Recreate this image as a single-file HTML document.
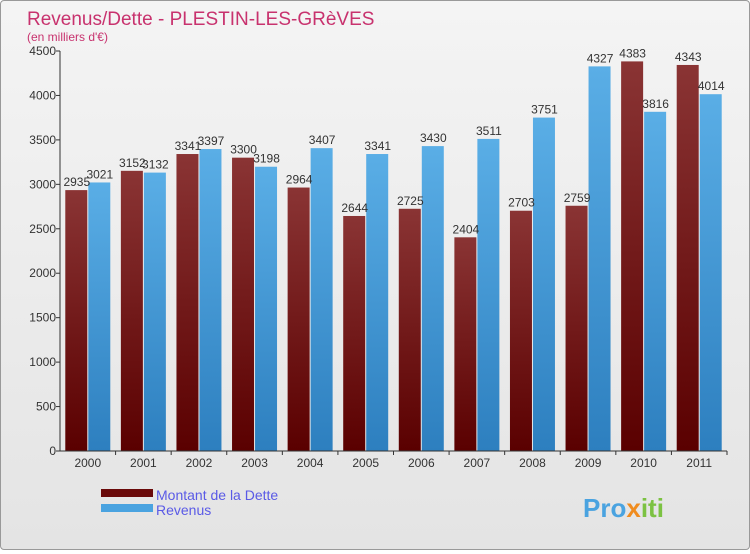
<!DOCTYPE html>
<html><head><meta charset="utf-8"><style>
body{margin:0;background:#fff;font-family:"Liberation Sans",sans-serif}
#wrap{position:relative;width:748px;height:548px;border:1px solid #999;border-radius:4px;background:linear-gradient(#f4f4f4,#e4e4e4)}
</style></head><body>
<div id="wrap">
<svg id="c" width="748" height="548" xmlns="http://www.w3.org/2000/svg">
<defs>
<linearGradient id="gd" x1="0" y1="0" x2="0" y2="1"><stop offset="0" stop-color="#8a3434"/><stop offset="1" stop-color="#5a0000"/></linearGradient>
<linearGradient id="gr" x1="0" y1="0" x2="0" y2="1"><stop offset="0" stop-color="#5aaee6"/><stop offset="1" stop-color="#2d7fbf"/></linearGradient>
</defs>
<text x="26" y="24" font-size="19" fill="#c8326e">Revenus/Dette - PLESTIN-LES-GRèVES</text>
<text x="26" y="40" font-size="12" fill="#c8326e">(en milliers d'€)</text>
<g id="grid"></g><g id="bars"></g><g id="axes"></g>
<rect x="100" y="488" width="52" height="8" fill="#6a0a0a"/>
<text x="155" y="499" font-size="14" fill="#5a5ae6">Montant de la Dette</text>
<rect x="100" y="503" width="52" height="8" fill="#4aa3e0"/>
<text x="155" y="514" font-size="14" fill="#5a5ae6">Revenus</text>
<text x="582" y="516" font-size="26" font-weight="bold" fill="#4aa3e0">Pro<tspan fill="#f08c1e">x</tspan><tspan fill="#7cc242">iti</tspan></text>
</svg></div>
<script>
const years=["2000","2001","2002","2003","2004","2005","2006","2007","2008","2009","2010","2011"];
const dette=[2935,3152,3341,3300,2964,2644,2725,2404,2703,2759,4383,4343];
const revenus=[3021,3132,3397,3198,3407,3341,3430,3511,3751,4327,3816,4014];
const ticks=[0,500,1000,1500,2000,2500,3000,3500,4000,4500];
const NS="http://www.w3.org/2000/svg";
const x0=59,x1=726,yb=450,yt=50,max=4500;
const gw=(x1-x0)/years.length;
const y=v=>yb-(v/max)*(yb-yt);
function mk(t,a,p){const e=document.createElementNS(NS,t);for(const k in a)e.setAttribute(k,a[k]);p.appendChild(e);return e;}
const grid=document.getElementById('grid'),bars=document.getElementById('bars'),axes=document.getElementById('axes');
ticks.forEach(t=>{
 const l=mk('line',{x1:x0-4,x2:x0,y1:y(t),y2:y(t),stroke:'#333'},axes);
 
 
 const tx=mk('text',{x:x0-4,y:y(t)+4,'font-size':12,'text-anchor':'end',fill:'#333'},axes);tx.textContent=t;
 
 
});
mk('line',{x1:x0,x2:x0,y1:yt,y2:yb,stroke:'#333'},axes);
mk('line',{x1:x0,x2:x1,y1:yb,y2:yb,stroke:'#333'},axes);
const bw=22;
years.forEach((yr,i)=>{
 const cx=x0+gw*(i+0.5);
 const r1=mk('rect',{x:cx-bw-0.5,y:y(dette[i]),width:bw,height:yb-y(dette[i]),fill:'url(#gd)'},bars);
 
 
 const r2=mk('rect',{x:cx+0.5,y:y(revenus[i]),width:bw,height:yb-y(revenus[i]),fill:'url(#gr)'},bars);
 
 
 const t1=mk('text',{x:cx-bw/2,y:y(dette[i])-4,'font-size':12,'text-anchor':'middle',fill:'#333'},bars);t1.textContent=dette[i];
 
 
 const t2=mk('text',{x:cx+bw/2+1,y:y(revenus[i])-4,'font-size':12,'text-anchor':'middle',fill:'#333'},bars);t2.textContent=revenus[i];
 
 
 const xt=mk('text',{x:cx,y:466,'font-size':12,'text-anchor':'middle',fill:'#333'},axes);xt.textContent=yr;
 
 
 mk('line',{x1:x0+gw*(i+1),x2:x0+gw*(i+1),y1:yb,y2:yb+4,stroke:'#333'},axes);
});
</script>
</body></html>
